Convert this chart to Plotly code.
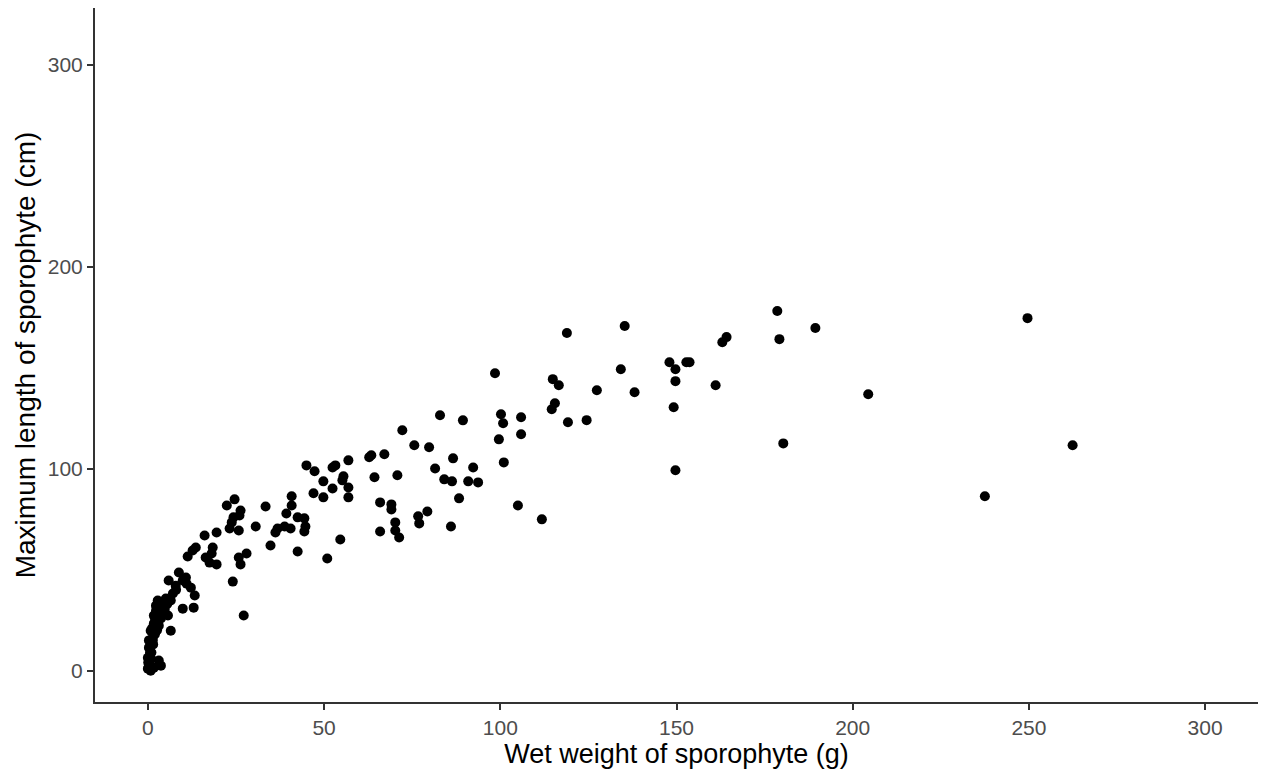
import plotly.graph_objects as go

# Wet weight of sporophyte (g)
wet_weight = [
    249.6, 262.4, 237.5, 204.4, 189.4, 178.6, 179.2, 180.3, 163.0, 164.2,
    161.1, 152.8, 153.7, 148.0, 149.7, 149.7, 149.2, 149.7, 135.3, 134.2,
    138.1, 127.4, 124.5, 118.9, 119.2, 114.9, 116.6, 115.5, 114.6, 111.8,
    105.9, 105.9, 105.0, 98.5, 100.2, 100.8, 99.6, 101.0, 82.9, 89.4,
    72.2, 75.6, 79.8, 67.1, 86.6, 70.8, 81.5, 92.3, 84.1, 86.3,
    90.9, 93.7, 88.3, 65.9, 69.1, 69.1, 79.3, 76.7, 77.0, 70.2,
    70.2, 71.3, 86.0, 65.9, 62.8, 63.4, 64.3, 45.0, 47.3, 52.4,
    53.2, 56.9, 49.8, 55.5, 55.2, 52.4, 56.9, 56.9, 47.0, 49.8,
    54.6, 50.9, 40.8, 40.8, 39.3, 42.5, 44.4, 44.7, 44.4, 38.8,
    36.8, 36.2, 40.5, 33.4, 30.6, 34.8, 42.5, 22.4, 24.6, 26.3,
    26.0, 24.3, 23.8, 23.2, 25.8, 19.5, 16.1, 13.6, 12.7, 11.3,
    18.4, 18.1, 16.4, 17.5, 19.5, 28.0, 25.8, 26.3, 24.1, 27.2,
    8.8, 10.8, 5.9, 9.9, 12.2, 13.3, 13.0, 9.9, 7.1, 3.7,
    2.3, 5.7, 6.5, 1.7, 1.4, 0.3, 0.0, 0.0, 3.1, 1.7,
    4.2, 0.8, 2.8, 5.1, 7.9, 3.7, 3.1, 0.8, 0.6, 0.1,
    0.8, 2.3, 4.5, 6.5, 1.4, 1.7, 3.7,
    0.5, 1.0, 1.5, 2.0, 2.5, 3.2, 1.2, 2.0, 0.3, 4.8,
    5.5, 11.0, 8.0, 0.9, 2.6,
]

# Maximum length of sporophyte (cm)
max_length = [
    174.5, 111.6, 86.3, 136.8, 169.6, 178.0, 164.1, 112.5, 162.6, 165.1,
    141.3, 152.7, 152.7, 152.7, 149.2, 143.3, 130.4, 99.2, 170.6, 149.2,
    137.8, 138.8, 124.0, 167.1, 123.0, 144.3, 141.3, 132.4, 129.4, 74.9,
    125.4, 117.0, 81.8, 147.2, 126.9, 122.5, 114.5, 103.1, 126.4, 123.9,
    119.0, 111.6, 110.6, 107.1, 105.1, 96.7, 100.1, 100.6, 94.7, 93.7,
    93.7, 93.2, 85.3, 83.3, 82.3, 79.8, 78.8, 76.4, 72.9, 73.4,
    69.4, 65.9, 71.4, 68.9, 105.6, 106.6, 95.7, 101.6, 98.7, 100.6,
    101.6, 104.1, 93.7, 96.2, 94.2, 90.2, 90.7, 85.8, 87.8, 85.8,
    64.9, 55.5, 86.3, 81.8, 77.8, 75.9, 75.4, 71.4, 68.9, 71.4,
    70.4, 68.4, 70.4, 81.3, 71.4, 62.0, 59.0, 81.8, 84.8, 79.3,
    76.8, 75.9, 73.4, 70.4, 69.4, 68.4, 66.9, 61.0, 59.5, 56.5,
    61.0, 58.0, 56.0, 53.5, 52.6, 58.0, 56.0, 52.6, 44.1, 27.3,
    48.6, 46.1, 44.6, 44.6, 41.1, 37.2, 31.2, 30.7, 38.2, 33.7,
    29.7, 27.3, 19.8, 23.3, 16.4, 11.4, 6.4, 1.0, 5.0, 1.5,
    28.3, 19.8, 34.7, 35.7, 42.1, 25.8, 22.3, 12.4, 8.9, 4.0,
    0.0, 32.2, 32.2, 34.7, 14.9, 27.3, 2.5,
    3.0, 9.0, 13.0, 18.0, 24.0, 30.0, 21.0, 26.0, 15.0, 30.5,
    33.0, 43.0, 40.0, 6.0, 20.0,
]

x_ticks = [0, 50, 100, 150, 200, 250, 300]
y_ticks = [0, 100, 200, 300]

FONT = "Liberation Sans, Arial, sans-serif"

fig = go.Figure(
    go.Scatter(
        x=wet_weight,
        y=max_length,
        mode="markers",
        marker=dict(color="black", size=10, line=dict(width=0)),
        hoverinfo="x+y",
    )
)

axis_common = dict(
    showgrid=False,
    zeroline=False,
    showline=True,
    linecolor="#333333",
    linewidth=2,
    ticks="outside",
    ticklen=6,
    tickwidth=1.5,
    tickcolor="#333333",
    tickfont=dict(family=FONT, size=21, color="#4d4d4d"),
)

fig.update_layout(
    width=1266,
    height=775,
    margin=dict(l=95, r=8, t=8, b=73),
    plot_bgcolor="white",
    paper_bgcolor="white",
    showlegend=False,
    font=dict(family=FONT),
    xaxis=dict(
        range=[-15, 315],
        tickvals=x_ticks,
        ticktext=[str(v) for v in x_ticks],
        title=dict(text="Wet weight of sporophyte (g)", standoff=4,
                   font=dict(family=FONT, size=27, color="black")),
        **axis_common,
    ),
    yaxis=dict(
        range=[-15.5, 328],
        tickvals=y_ticks,
        ticktext=[str(v) for v in y_ticks],
        title=dict(text="Maximum length of sporophyte (cm)", standoff=4,
                   font=dict(family=FONT, size=28, color="black")),
        **axis_common,
    ),
)

fig.write_html("out.html")
